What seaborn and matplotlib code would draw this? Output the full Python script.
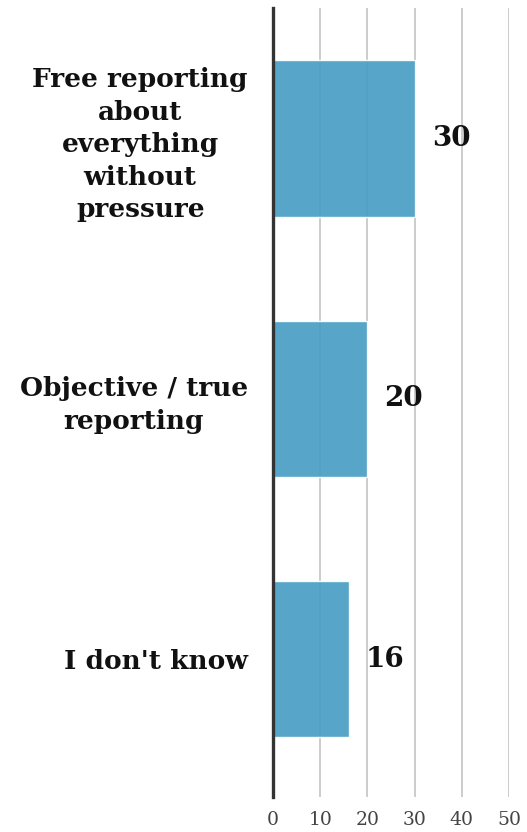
import numpy as np
import pandas as pd
import matplotlib.pyplot as plt
import seaborn as sns

categories = ['Free reporting\nabout\neverything\nwithout\npressure',
              'Objective / true\nreporting',
              "I don't know"]
values = [30, 20, 16]
x_ticks = [0, 10, 20, 30, 40, 50]

df = pd.DataFrame({'answer': categories, 'value': values})

sns.set_style('white')
plt.rcParams['font.family'] = ['DejaVu Serif']

fig = plt.figure(figsize=(5.27, 8.32), dpi=100)
ax = fig.add_axes([0.518, 0.042, 0.448, 0.948])

ax.set_axisbelow(True)
ax.grid(axis='x', color='#c4c4c4', linewidth=1.2)
sns.barplot(data=df, y='answer', x='value', orient='h', color='#4a9fc5',
            alpha=0.93, width=0.6, saturation=1, ax=ax)

for i, v in enumerate(values):
    ax.annotate(str(v), xy=(v, i), xytext=(17, 0), textcoords='offset pixels',
                ha='left', va='center', fontsize=20, fontweight='bold',
                color='#111111')

ax.set_xlim(0, 50)
ax.set_ylim(2.53, -0.5)
ax.set_xticks(x_ticks)
ax.set_xticklabels([str(t) for t in x_ticks], fontsize=13.5, color='#444444')
ax.tick_params(axis='x', length=0, pad=10)
ax.tick_params(axis='y', length=0, pad=18)
for lab in ax.get_yticklabels():
    lab.set_fontsize(19)
    lab.set_fontweight('bold')
    lab.set_color('#111111')
    lab.set_multialignment('center')
    lab.set_linespacing(1.38)

ax.set_xlabel('')
ax.set_ylabel('')
for s in ['top', 'right', 'bottom']:
    ax.spines[s].set_visible(False)
ax.spines['left'].set_color('#333333')
ax.spines['left'].set_linewidth(2.4)

plt.savefig('out.png', dpi=100)
